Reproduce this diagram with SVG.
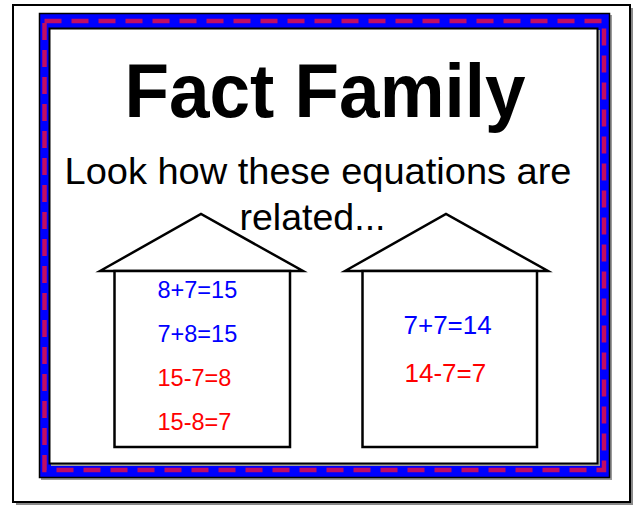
<svg xmlns="http://www.w3.org/2000/svg" width="640" height="506" viewBox="0 0 640 506">
  <style>
    .eqb { font-family: "Liberation Sans", Arial, sans-serif; fill: #0000ff; }
    .eqr { font-family: "Liberation Sans", Arial, sans-serif; fill: #ff0000; }
    .house { fill: #ffffff; stroke: #000000; stroke-width: 2.5; stroke-linejoin: miter; }
    .rope { fill: none; stroke: #f0103c; stroke-width: 4.5; stroke-dasharray: 17 10; stroke-linecap: butt; opacity: 0.8; }
  </style>
  <rect width="640" height="506" fill="#ffffff"/>
  <!-- page -->
  <g id="page">
    <rect x="16" y="8" width="617" height="497" fill="#8a8a8a"/>
    <rect x="13" y="5" width="617" height="497" fill="#ffffff" stroke="#000000" stroke-width="2"/>
  </g>
  <!-- decorative border -->
  <g id="border">
    <rect x="41" y="15" width="571" height="465" fill="#9a9a9a"/>
    <rect x="39.5" y="13.5" width="570" height="464" fill="#0000ff" stroke="#000000" stroke-width="1.5"/>
    <rect x="44.5" y="21" width="559.5" height="449" class="rope"/>
    <rect x="51" y="30" width="549" height="436" fill="#a0a0a0"/>
    <rect x="49.5" y="28.5" width="548" height="435" fill="#ffffff" stroke="#000000" stroke-width="2"/>
  </g>
  <g id="title">
    <text x="124.5" y="117" font-family="'Liberation Sans', Arial, sans-serif" font-weight="bold" font-size="76" textLength="401" lengthAdjust="spacingAndGlyphs" fill="#000000">Fact Family</text>
  </g>
  <g id="subtitle" font-family="'Liberation Sans', Arial, sans-serif" font-size="36" fill="#000000">
    <text x="64.5" y="183.5" textLength="507" lengthAdjust="spacingAndGlyphs">Look how these equations are</text>
    <text x="239.5" y="230" textLength="146" lengthAdjust="spacingAndGlyphs">related...</text>
  </g>
  <g id="house-left">
    <polygon class="house" points="100,271 201,214 303,271"/>
    <rect class="house" x="114.5" y="271" width="175.5" height="176"/>
    <text class="eqb" x="157.5" y="298" font-size="23.5">8+7=15</text>
    <text class="eqb" x="157.5" y="341.5" font-size="23.5">7+8=15</text>
    <text class="eqr" x="157.5" y="386" font-size="23.5">15-7=8</text>
    <text class="eqr" x="157.5" y="429.5" font-size="23.5">15-8=7</text>
  </g>
  <g id="house-right">
    <polygon class="house" points="345,271 446,214 548,271"/>
    <rect class="house" x="362.5" y="271" width="174.5" height="176"/>
    <text class="eqb" x="403.5" y="334" font-size="26">7+7=14</text>
    <text class="eqr" x="404.5" y="382" font-size="26">14-7=7</text>
  </g>
</svg>
